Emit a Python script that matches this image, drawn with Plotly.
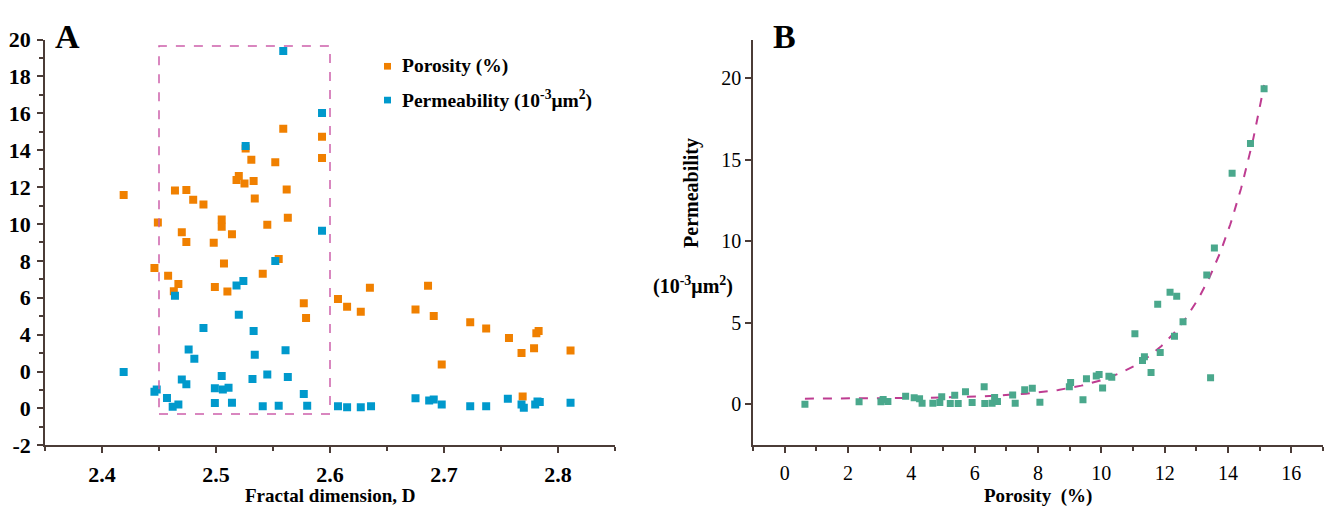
import numpy as np
import plotly.graph_objects as go

# ---------------- Panel A data ----------------
por_D = [2.419, 2.449, 2.464, 2.474, 2.480, 2.489, 2.470, 2.474, 2.505, 2.505,
         2.498, 2.514, 2.518, 2.520, 2.525, 2.533, 2.531, 2.526, 2.534, 2.552,
         2.559, 2.562, 2.563, 2.545, 2.593, 2.593, 2.446, 2.458, 2.467, 2.463,
         2.507, 2.499, 2.510, 2.541, 2.555, 2.577, 2.579, 2.607, 2.615, 2.627,
         2.635, 2.675, 2.686, 2.691, 2.698, 2.723, 2.737, 2.757, 2.768, 2.779,
         2.781, 2.783, 2.811, 2.769]
por_val = [11.58, 10.08, 11.82, 11.85, 11.32, 11.06, 9.56, 9.03, 10.25, 9.85,
           8.99, 9.44, 12.39, 12.61, 12.20, 12.33, 13.49, 14.09, 11.39, 13.35,
           15.16, 11.87, 10.34, 9.96, 14.73, 13.58, 7.61, 7.20, 6.75, 6.36,
           7.86, 6.58, 6.34, 7.30, 8.10, 5.70, 4.91, 5.93, 5.51, 5.24,
           6.55, 5.37, 6.65, 5.01, 2.38, 4.67, 4.34, 3.82, 3.00, 3.26,
           4.08, 4.20, 3.14, 0.65]

perm_D = [2.559, 2.593, 2.593, 2.526, 2.552, 2.464, 2.518, 2.524, 2.520, 2.489,
          2.533, 2.476, 2.481, 2.534, 2.561, 2.419, 2.470, 2.474, 2.505, 2.532,
          2.545, 2.563, 2.446, 2.448, 2.499, 2.506, 2.511, 2.457, 2.462, 2.467,
          2.499, 2.514, 2.541, 2.555, 2.577, 2.580, 2.607, 2.615, 2.627, 2.636,
          2.675, 2.687, 2.691, 2.698, 2.723, 2.737, 2.756, 2.768, 2.770, 2.780,
          2.782, 2.784, 2.811]
perm_val = [19.38, 16.02, 9.63, 14.23, 7.99, 6.11, 6.67, 6.91, 5.08, 4.36,
            4.20, 3.20, 2.69, 2.91, 3.15, 1.98, 1.57, 1.31, 1.76, 1.60,
            1.84, 1.71, 0.91, 1.02, 1.09, 1.03, 1.12, 0.57, 0.09, 0.21,
            0.29, 0.31, 0.12, 0.15, 0.78, 0.14, 0.12, 0.07, 0.07, 0.12,
            0.55, 0.43, 0.48, 0.21, 0.12, 0.12, 0.52, 0.21, 0.04, 0.21,
            0.38, 0.35, 0.31]

a_ytick_vals = [-2, 0, 2, 4, 6, 8, 10, 12, 14, 16, 18, 20]
a_ytick_text = ["-2", "0", "0", "4", "6", "8", "10", "12", "14", "16", "18", "20"]
a_xtick_vals = [2.4, 2.5, 2.6, 2.7, 2.8]
a_xtick_text = ["2.4", "2.5", "2.6", "2.7", "2.8"]

# ---------------- Panel B data ----------------
b_por = [0.64, 2.35, 3.04, 3.11, 3.26, 3.82, 4.09, 4.26, 4.34, 4.68,
         4.90, 4.96, 5.23, 5.37, 5.48, 5.71, 5.92, 6.30, 6.32, 6.55,
         6.63, 6.72, 7.20, 7.28, 7.58, 7.82, 8.06, 8.99, 9.03, 9.42,
         9.53, 9.84, 9.93, 10.04, 10.24, 10.33, 11.57, 11.06, 11.30, 11.36,
         11.78, 11.86, 12.17, 12.38, 12.31, 12.58, 13.33, 13.57, 13.45, 14.13,
         14.71, 15.14]
b_perm = [0.02, 0.17, 0.17, 0.31, 0.19, 0.51, 0.41, 0.35, 0.08, 0.08,
          0.12, 0.47, 0.06, 0.57, 0.06, 0.78, 0.12, 1.09, 0.06, 0.08,
          0.43, 0.19, 0.58, 0.08, 0.91, 0.99, 0.14, 1.09, 1.34, 0.29,
          1.57, 1.75, 1.83, 1.01, 1.73, 1.67, 1.96, 4.33, 2.70, 2.93,
          6.14, 3.19, 6.88, 6.63, 4.18, 5.07, 7.93, 9.58, 1.63, 14.17,
          15.98, 19.34]

# exponential trend line  y = c + A*exp(b*x)
fit_c, fit_A, fit_b = 0.35, 0.00465, 0.55
fit_xmin, fit_xmax = 0.64, 15.14

b_xtick_vals = [0, 2, 4, 6, 8, 10, 12, 14, 16]
b_ytick_vals = [0, 5, 10, 15, 20]

ORANGE = "rgb(240,128,0)"
BLUE = "rgb(0,153,204)"
GREEN = "rgb(74,168,140)"
MAGENTA = "rgb(190,60,145)"
RECT = "rgb(205,95,170)"
AXIS = "rgb(75,60,55)"
FONT = "Liberation Serif"

W, H = 1326, 524
def px(x):
    return x / W
def py(y):
    return 1 - y / H

fig = go.Figure()

fig.add_trace(go.Scatter(x=por_D, y=por_val, mode="markers", name="Porosity (%)",
                         marker=dict(symbol="square", size=8, color=ORANGE),
                         xaxis="x", yaxis="y", showlegend=False))
fig.add_trace(go.Scatter(x=perm_D, y=perm_val, mode="markers",
                         name="Permeability (10<sup>-3</sup>μm<sup>2</sup>)",
                         marker=dict(symbol="square", size=8, color=BLUE),
                         xaxis="x", yaxis="y", showlegend=False))

fit_x = np.linspace(fit_xmin, fit_xmax, 300)
fit_y = fit_c + fit_A * np.exp(fit_b * fit_x)
fig.add_trace(go.Scatter(x=fit_x, y=fit_y, mode="lines",
                         line=dict(color=MAGENTA, width=2, dash="dash"),
                         xaxis="x2", yaxis="y2", showlegend=False))
fig.add_trace(go.Scatter(x=b_por, y=b_perm, mode="markers",
                         marker=dict(symbol="square", size=7, color=GREEN),
                         xaxis="x2", yaxis="y2", showlegend=False))

ydom = [py(455), py(29)]

common_axis = dict(showgrid=False, zeroline=False, showline=True, linecolor=AXIS,
                   linewidth=1.5, ticks="outside", tickcolor=AXIS, tickwidth=1.5,
                   ticklen=6)

TICK_A = dict(family=FONT, size=22, weight="bold", color="black")
TICK_B = dict(family=FONT, size=20, color="black")


def ann(text, x, y, size, bold=True, xanchor="center", angle=0):
    return dict(text=text, x=px(x), y=py(y), xref="paper", yref="paper",
                xanchor=xanchor, yanchor="middle", showarrow=False, textangle=angle,
                font=dict(family=FONT, size=size, weight="bold" if bold else "normal",
                          color="black"))


fig.update_layout(
    width=W, height=H,
    margin=dict(l=0, r=0, t=0, b=0),
    paper_bgcolor="white", plot_bgcolor="white",
    font=dict(family=FONT, color="black"),
    xaxis=dict(domain=[px(45), px(615)], range=[2.35, 2.85],
               tickmode="array", tickvals=a_xtick_vals, ticktext=a_xtick_text,
               tickfont=TICK_A, ticklabelstandoff=3,
               minor=dict(tickvals=[2.35, 2.45, 2.55, 2.65, 2.75, 2.85], ticklen=4,
                          tickcolor=AXIS, tickwidth=1.5, ticks="outside"),
               anchor="y", **common_axis),
    yaxis=dict(domain=ydom, range=[-2, 20],
               tickmode="array", tickvals=a_ytick_vals, ticktext=a_ytick_text,
               tickfont=TICK_A, ticklabelstandoff=2,
               minor=dict(tickvals=[-1, 1, 3, 5, 7, 9, 11, 13, 15, 17, 19], ticklen=4,
                          tickcolor=AXIS, tickwidth=1.5, ticks="outside"),
               anchor="x", **common_axis),
    xaxis2=dict(domain=[px(753), px(1323)], range=[-1, 17],
                tickmode="array", tickvals=b_xtick_vals,
                tickfont=TICK_B, ticklabelstandoff=3,
                minor=dict(tickvals=[-1, 1, 3, 5, 7, 9, 11, 13, 15, 17], ticklen=4,
                           tickcolor=AXIS, tickwidth=1.5, ticks="outside"),
                anchor="y2", **common_axis),
    yaxis2=dict(domain=ydom, range=[-2.5, 22.35],
                tickmode="array", tickvals=b_ytick_vals,
                tickfont=TICK_B, ticklabelstandoff=0,
                anchor="x2", **common_axis),
    shapes=[
        dict(type="rect", xref="x", yref="y", x0=2.45, x1=2.60, y0=-0.3, y1=19.65,
             line=dict(color=RECT, width=1.5, dash="dash")),
        dict(type="rect", xref="paper", yref="paper",
             x0=px(384), x1=px(391), y0=py(60.5), y1=py(53.5),
             fillcolor=ORANGE, line=dict(width=0)),
        dict(type="rect", xref="paper", yref="paper",
             x0=px(384), x1=px(391), y0=py(96), y1=py(89),
             fillcolor=BLUE, line=dict(width=0)),
    ],
    annotations=[
        ann("A", 67, 26, 34),
        ann("B", 784, 26, 34),
        ann("Porosity (%)", 400, 57, 19.5, xanchor="left"),
        ann("Permeability (10<sup>-3</sup>μm<sup>2</sup>)", 400, 92, 19.5, xanchor="left"),
        ann("Fractal dimension, D", 330, 508, 19),
        ann("Porosity  (%)", 1038, 508, 19),
        ann("Permeability", 692, 190, 20, angle=-90),
        ann("(10<sup>-3</sup>μm<sup>2</sup>)", 693, 287, 20),
    ],
)

fig.write_html("out.html")
